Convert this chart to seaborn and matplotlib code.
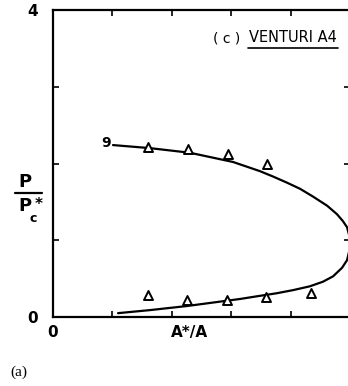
import matplotlib
matplotlib.use("Agg")
import matplotlib.pyplot as plt
import seaborn as sns
import pandas as pd
from matplotlib.lines import Line2D

# ---- data ----
curve_x = [0.202, 0.327, 0.461, 0.606, 0.697, 0.741, 0.788, 0.832, 0.875, 0.923,
           0.956, 0.976, 0.990, 0.9975, 1.000, 0.9975, 0.990, 0.973, 0.943, 0.909,
           0.865, 0.808, 0.754, 0.687, 0.630, 0.552, 0.451, 0.327, 0.219]
curve_y = [2.24, 2.20, 2.14, 2.02, 1.90, 1.83, 1.75, 1.67, 1.57, 1.45,
           1.34, 1.25, 1.17, 1.06, 0.96, 0.86, 0.74, 0.64, 0.53, 0.46,
           0.40, 0.35, 0.31, 0.27, 0.235, 0.195, 0.143, 0.09, 0.05]
upper_pts_x = [0.32, 0.455, 0.589, 0.72]
upper_pts_y = [2.22, 2.19, 2.12, 1.99]
lower_pts_x = [0.32, 0.451, 0.586, 0.717, 0.869]
lower_pts_y = [0.286, 0.22, 0.22, 0.26, 0.31]
xticks = [0, 0.2, 0.4, 0.6, 0.8, 1.0]
xticklabels = ["0", "", "", "", "", ""]
yticks = [0, 1, 2, 3, 4]
yticklabels = ["0", "", "", "", "4"]

sns.set_style("ticks")
plt.rcParams["font.family"] = ["DejaVu Sans"]
plt.rcParams["text.color"] = "black"
plt.rcParams["xtick.color"] = "black"
plt.rcParams["ytick.color"] = "black"

W, H = 348, 386
fig = plt.figure(figsize=(W / 100, H / 100), dpi=100)
ax = fig.add_axes([53 / W, 69 / H, 297 / W, 307 / H])

curve = pd.DataFrame({"x": curve_x, "y": curve_y})
sns.lineplot(data=curve, x="x", y="y", sort=False, estimator=None,
             color="black", linewidth=1.6, ax=ax, zorder=2)
pts = pd.DataFrame({"x": upper_pts_x + lower_pts_x, "y": upper_pts_y + lower_pts_y})
sns.scatterplot(data=pts, x="x", y="y", marker="^", s=42, facecolor="white",
                edgecolor="black", linewidth=1.4, ax=ax, zorder=3)

ax.set_xlim(0, 1.0)
ax.set_ylim(0, 4)
ax.set_xticks(xticks)
ax.set_xticklabels(xticklabels, fontsize=11, fontweight="bold", color="black")
ax.set_yticks(yticks)
ax.set_yticklabels(yticklabels, fontsize=11, fontweight="bold", color="black")
ax.tick_params(axis="both", direction="in", length=4, width=1.2,
               top=True, right=True, colors="black")
ax.tick_params(axis="x", pad=6)
ax.tick_params(axis="y", pad=11)
ax.set_xlabel("")
ax.set_ylabel("")
for s in ax.spines.values():
    s.set_linewidth(1.6)
    s.set_color("black")

# curve label
ax.text(0.178, 2.27, "9", fontsize=10, fontweight="bold", ha="center", va="center")

# panel title
fig.text(227 / W, 1 - 38 / H, "( c )", fontsize=10, ha="center", va="center")
fig.text(293 / W, 1 - 38 / H, "VENTURI A4", fontsize=10.5, ha="center", va="center")
fig.add_artist(Line2D([248 / W, 338 / W], [1 - 47.5 / H, 1 - 47.5 / H],
                      color="black", linewidth=1.2, transform=fig.transFigure))

# x label
fig.text(189 / W, 1 - 332 / H, "A*/A", fontsize=11, fontweight="bold",
         ha="center", va="center")

# y label as a fraction P / Pc*
fig.text(25 / W, 1 - 182 / H, "P", fontsize=13, fontweight="bold",
         ha="center", va="center")
fig.add_artist(Line2D([15 / W, 42 / W], [1 - 193 / H, 1 - 193 / H],
                      color="black", linewidth=1.6, transform=fig.transFigure))
fig.text(25 / W, 1 - 206 / H, "P", fontsize=13, fontweight="bold",
         ha="center", va="center")
fig.text(33 / W, 1 - 218 / H, "c", fontsize=9, fontweight="bold",
         ha="center", va="center")
fig.text(39 / W, 1 - 204 / H, "*", fontsize=11, fontweight="bold",
         ha="center", va="center")

# figure tag
fig.text(19 / W, 1 - 372 / H, "(a)", fontsize=11, family="Liberation Serif",
         ha="center", va="center")

fig.savefig("out.png", dpi=100)
